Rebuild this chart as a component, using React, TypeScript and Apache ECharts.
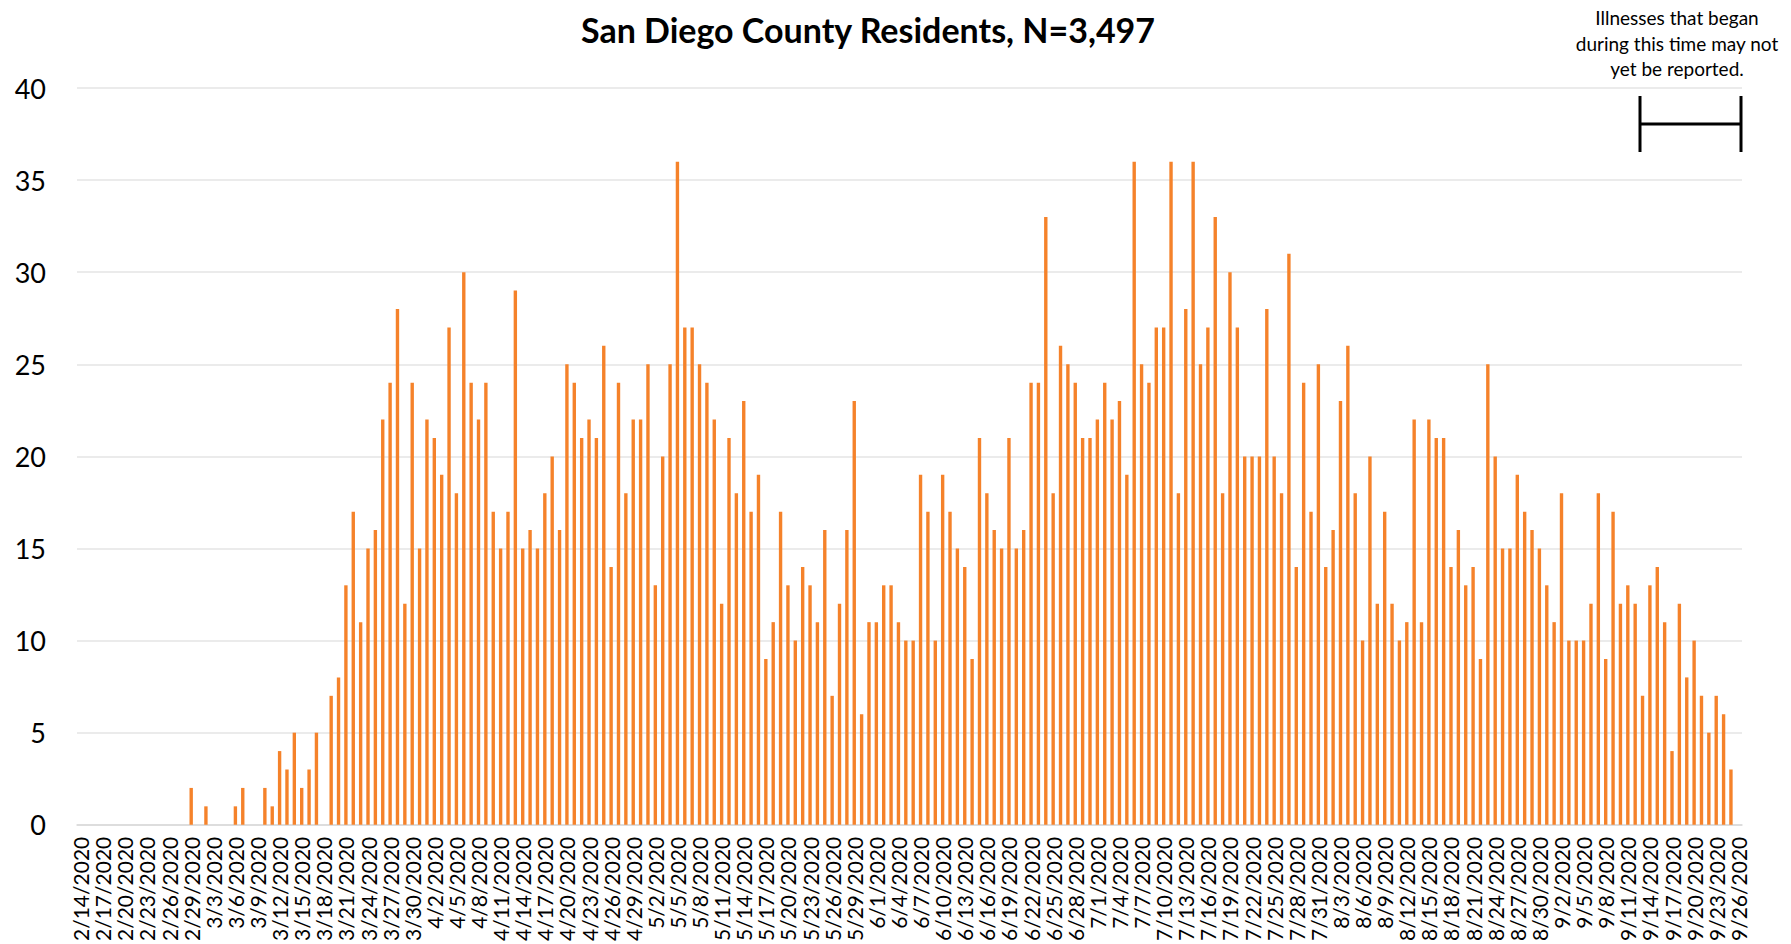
import React, { useEffect, useRef } from "react";
import * as echarts from "echarts";

// Daily counts by date of illness onset, 2/14/2020 – 9/26/2020
const feb = [0, 0, 0, 0, 0, 0, 0, 0, 0, 0, 0, 0, 0, 0, 0, 2]; // 2/14 - 2/29
const mar = [0, 1, 0, 0, 0, 1, 2, 0, 0, 2, 1, 4, 3, 5, 2, 3, 5, 0, 7, 8, 13, 17, 11, 15, 16, 22, 24, 28, 12, 24, 15];
const apr = [22, 21, 19, 27, 18, 30, 24, 22, 24, 17, 15, 17, 29, 15, 16, 15, 18, 20, 16, 25, 24, 21, 22, 21, 26, 14, 24, 18, 22, 22];
const may = [25, 13, 20, 25, 36, 27, 27, 25, 24, 22, 12, 21, 18, 23, 17, 19, 9, 11, 17, 13, 10, 14, 13, 11, 16, 7, 12, 16, 23, 6, 11];
const jun = [11, 13, 13, 11, 10, 10, 19, 17, 10, 19, 17, 15, 14, 9, 21, 18, 16, 15, 21, 15, 16, 24, 24, 33, 18, 26, 25, 24, 21, 21];
const jul = [22, 24, 22, 23, 19, 36, 25, 24, 27, 27, 36, 18, 28, 36, 25, 27, 33, 18, 30, 27, 20, 20, 20, 28, 20, 18, 31, 14, 24, 17, 25];
const aug = [14, 16, 23, 26, 18, 10, 20, 12, 17, 12, 10, 11, 22, 11, 22, 21, 21, 14, 16, 13, 14, 9, 25, 20, 15, 15, 19, 17, 16, 15, 13];
const sep = [11, 18, 10, 10, 10, 12, 18, 9, 17, 12, 13, 12, 7, 13, 14, 11, 4, 12, 8, 10, 7, 5, 7, 6, 3, 0];

// month number, first day shown, number of days shown
const monthSpans: [number, number, number][] = [
  [2, 14, 16],
  [3, 1, 31],
  [4, 1, 30],
  [5, 1, 31],
  [6, 1, 30],
  [7, 1, 31],
  [8, 1, 31],
  [9, 1, 26],
];

const categories: string[] = [];
monthSpans.forEach(([m, d0, n]) => {
  for (let k = 0; k < n; k++) categories.push(`${m}/${d0 + k}/2020`);
});
const values = [...feb, ...mar, ...apr, ...may, ...jun, ...jul, ...aug, ...sep];

const titleText = "San Diego County Residents, N=3,497";
const noteText = "Illnesses that began\nduring this time may not\nyet be reported.";

const FONT = "Lato, 'Open Sans', sans-serif";

export default function App() {
  const ref = useRef<HTMLDivElement>(null);
  useEffect(() => {
    document.body.style.margin = "0";
    if (!ref.current) return;
    const chart = echarts.init(ref.current, null, { renderer: "svg" });
    chart.setOption({
      animation: false,
      backgroundColor: "#ffffff",
      grid: { left: 77, right: 49, top: 88, bottom: 119, containLabel: false },
      xAxis: {
        type: "category",
        data: categories,
        boundaryGap: true,
        axisLine: { show: true, lineStyle: { color: "#d9d9d9", width: 1.5 } },
        axisTick: { show: false },
        axisLabel: {
          interval: 2,
          rotate: 90,
          margin: 12,
          color: "#000",
          fontFamily: FONT,
          fontSize: 21,
        },
      },
      yAxis: {
        type: "value",
        min: 0,
        max: 40,
        interval: 5,
        axisLine: { show: false },
        axisTick: { show: false },
        splitLine: { lineStyle: { color: "#e4e4e4", width: 1.5 } },
        axisLabel: {
          margin: 31,
          color: "#000",
          fontFamily: FONT,
          fontSize: 27,
        },
      },
      series: [
        {
          type: "bar",
          data: values,
          barWidth: "46%",
          itemStyle: { color: "#F5822A" },
        },
      ],
      graphic: [
        {
          type: "text",
          x: 868,
          y: 29,
          style: {
            text: titleText,
            fontFamily: FONT,
            fontWeight: "bold",
            fontSize: 34,
            fill: "#000",
            textAlign: "center",
            textVerticalAlign: "middle",
          },
        },
        {
          type: "text",
          x: 1677,
          y: 5,
          style: {
            text: noteText,
            fontFamily: FONT,
            fontSize: 19,
            lineHeight: 25.5,
            fill: "#000",
            textAlign: "center",
            textVerticalAlign: "top",
          },
        },
        {
          type: "line",
          shape: { x1: 1640, y1: 96, x2: 1640, y2: 152 },
          style: { stroke: "#000", lineWidth: 3 },
        },
        {
          type: "line",
          shape: { x1: 1741, y1: 96, x2: 1741, y2: 152 },
          style: { stroke: "#000", lineWidth: 3 },
        },
        {
          type: "line",
          shape: { x1: 1640, y1: 124, x2: 1741, y2: 124 },
          style: { stroke: "#000", lineWidth: 3 },
        },
      ],
    });
    return () => chart.dispose();
  }, []);
  return <div ref={ref} style={{ width: 1791, height: 944 }} />;
}
